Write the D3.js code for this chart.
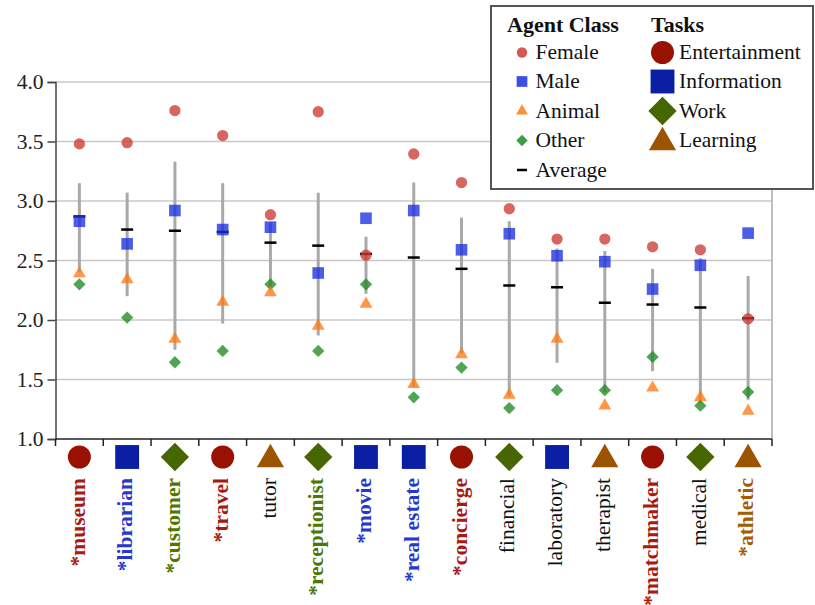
<!DOCTYPE html>
<html>
<head>
<meta charset="utf-8">
<script src="https://cdn.jsdelivr.net/npm/d3@7"></script>
<style>
  html, body { margin: 0; padding: 0; background: #fff; }
  svg { display: block; font-family: "Liberation Serif", "Times New Roman", serif; }
</style>
</head>
<body>
<svg id="chart" width="815" height="605"></svg>
<script>
// Agent roles, sorted by average rating
const categories = ["museum", "librarian", "customer", "travel", "tutor", "receptionist", "movie",
  "real estate", "concierge", "financial", "laboratory", "therapist", "matchmaker", "medical", "athletic"];
const starred = [true, true, true, true, false, true, true, true, true, false, false, false, true, false, true];
const tasks = ["Entertainment", "Information", "Work", "Entertainment", "Learning", "Work", "Information",
  "Information", "Entertainment", "Work", "Information", "Learning", "Entertainment", "Work", "Learning"];

// Ratings per agent class
const female  = [3.48, 3.49, 3.76, 3.55, 2.885, 3.75, 2.545, 3.395, 3.155, 2.935, 2.68, 2.68, 2.615, 2.59, 2.01];
const male    = [2.83, 2.64, 2.92, 2.76, 2.78, 2.395, 2.855, 2.92, 2.59, 2.725, 2.54, 2.49, 2.26, 2.46, 2.73];
const animal  = [2.39, 2.34, 1.84, 2.15, 2.23, 1.95, 2.135, 1.46, 1.71, 1.37, 1.84, 1.28, 1.43, 1.35, 1.235];
const other   = [2.30, 2.02, 1.645, 1.74, 2.30, 1.74, 2.30, 1.35, 1.60, 1.26, 1.41, 1.41, 1.69, 1.28, 1.395];
const average = [2.87, 2.76, 2.75, 2.74, 2.65, 2.625, 2.555, 2.525, 2.43, 2.29, 2.275, 2.145, 2.13, 2.105, 2.015];
const errLow  = [2.40, 2.20, 1.75, 1.97, 2.27, 1.87, 2.22, 1.44, 1.72, 1.36, 1.64, 1.39, 1.57, 1.30, 1.33];
const errHigh = [3.15, 3.07, 3.33, 3.15, 2.82, 3.07, 2.70, 3.155, 2.86, 2.83, 2.60, 2.58, 2.43, 2.52, 2.37];

const yTicks = [1.0, 1.5, 2.0, 2.5, 3.0, 3.5, 4.0];

const classNames = ["Female", "Male", "Animal", "Other"];
const taskNames = ["Entertainment", "Information", "Work", "Learning"];

const classColor = { Female: "#cc3b36", Male: "#1b2fe0", Animal: "#ff7a14", Other: "#1f8a24" };
const taskColor = { Entertainment: "#991100", Information: "#0a1fa3", Work: "#456600", Learning: "#9c5400" };
const taskText = { Entertainment: "#a8190f", Information: "#2638cc", Work: "#4f7700", Learning: "#a35c00" };

const svg = d3.select("#chart");
const margin = { left: 55.5, right: 43, top: 82, bottom: 166 };
const W = 815, H = 605;

const x = d3.scaleBand().domain(categories).range([margin.left, W - margin.right]);
const y = d3.scaleLinear().domain([1, 4]).range([H - margin.bottom, margin.top]);

// shape generators keyed by kind; diamond is a square turned 45 degrees
function shapePath(kind, size) {
  if (kind === "circle") return d3.symbol(d3.symbolCircle, size)();
  if (kind === "square") return d3.symbol(d3.symbolSquare, size)();
  if (kind === "triangle") return d3.symbol(d3.symbolTriangle, size)();
  return d3.symbol(d3.symbolSquare, size)();
}
const classShape = { Female: "circle", Male: "square", Animal: "triangle", Other: "diamond" };
const taskShape = { Entertainment: "circle", Information: "square", Work: "diamond", Learning: "triangle" };
const smallSize = { circle: 100, square: 135, triangle: 72, diamond: 76 };
const bigSize = { circle: 415, square: 570, triangle: 320, diamond: 400 };

function drawShape(g, kind, size, cx, cy, fill, opacity) {
  return g.append("path")
    .attr("d", shapePath(kind, size))
    .attr("transform", `translate(${cx},${cy})` + (kind === "diamond" ? " rotate(45)" : ""))
    .attr("fill", fill)
    .attr("fill-opacity", opacity);
}

// gridlines
svg.append("g")
  .selectAll("line")
  .data(yTicks.slice(1))
  .join("line")
  .attr("x1", margin.left).attr("x2", W - margin.right)
  .attr("y1", d => y(d)).attr("y2", d => y(d))
  .attr("stroke", "#c8c8c8").attr("stroke-width", 1.5);

// right frame edge
svg.append("line")
  .attr("x1", W - margin.right).attr("x2", W - margin.right)
  .attr("y1", y(4)).attr("y2", y(1))
  .attr("stroke", "#aaa").attr("stroke-width", 1.5);

// y axis
const yAxis = svg.append("g")
  .attr("transform", `translate(${margin.left},0)`)
  .call(d3.axisLeft(y).tickValues(yTicks).tickFormat(d3.format(".1f")).tickSize(8).tickPadding(4));
yAxis.select(".domain").attr("stroke", "#444").attr("stroke-width", 1.5);
yAxis.selectAll(".tick line").attr("stroke", "#444").attr("stroke-width", 1.5);
yAxis.selectAll(".tick text").attr("font-size", "21.5px").attr("fill", "#222")
  .attr("font-family", "Liberation Serif, serif");

// x axis with ticks at category boundaries
const xBase = y(1);
svg.append("line")
  .attr("x1", margin.left).attr("x2", W - margin.right)
  .attr("y1", xBase).attr("y2", xBase)
  .attr("stroke", "#222").attr("stroke-width", 1.5);
const bounds = categories.map(c => x(c)).concat([x(categories[categories.length - 1]) + x.bandwidth()]);
svg.append("g").selectAll("line").data(bounds).join("line")
  .attr("x1", d => d).attr("x2", d => d)
  .attr("y1", xBase).attr("y2", xBase + 7)
  .attr("stroke", "#222").attr("stroke-width", 1.5);

const cx = i => x(categories[i]) + x.bandwidth() / 2;

// error bars
svg.append("g").selectAll("line").data(categories).join("line")
  .attr("x1", (d, i) => cx(i)).attr("x2", (d, i) => cx(i))
  .attr("y1", (d, i) => y(errHigh[i])).attr("y2", (d, i) => y(errLow[i]))
  .attr("stroke", "#a9a9a9").attr("stroke-width", 3);

// averages
svg.append("g").selectAll("line").data(categories).join("line")
  .attr("x1", (d, i) => cx(i) - 6).attr("x2", (d, i) => cx(i) + 6)
  .attr("y1", (d, i) => y(average[i])).attr("y2", (d, i) => y(average[i]))
  .attr("stroke", "#000").attr("stroke-width", 2.5);

// class markers
const series = { Female: female, Male: male, Animal: animal, Other: other };
const marks = svg.append("g");
["Other", "Animal", "Male", "Female"].forEach(name => {
  series[name].forEach((v, i) => {
    const k = classShape[name];
    drawShape(marks, k, smallSize[k], cx(i), y(v), classColor[name], 0.78);
  });
});

// task icons under the axis
const icons = svg.append("g");
categories.forEach((c, i) => {
  const k = taskShape[tasks[i]];
  drawShape(icons, k, bigSize[k], cx(i), k === "triangle" ? 459.5 : 457, taskColor[tasks[i]], 1);
});

// rotated category labels
svg.append("g").selectAll("text").data(categories).join("text")
  .attr("transform", (d, i) => `translate(${cx(i)},478) rotate(-90)`)
  .attr("text-anchor", "end")
  .attr("dy", "0.24em")
  .attr("font-size", "21.5px")
  .attr("font-weight", (d, i) => starred[i] ? "bold" : "normal")
  .attr("fill", (d, i) => starred[i] ? taskText[tasks[i]] : "#111")
  .text((d, i) => (starred[i] ? "*" : "") + d);

// legend
const lg = svg.append("g");
lg.append("rect")
  .attr("x", 491).attr("y", 6).attr("width", 322).attr("height", 183)
  .attr("fill", "#fff").attr("stroke", "#555").attr("stroke-width", 2);
lg.append("text").attr("x", 507).attr("y", 32).attr("font-size", "22px").attr("font-weight", "bold")
  .attr("fill", "#111").text("Agent Class");
lg.append("text").attr("x", 651).attr("y", 32).attr("font-size", "22px").attr("font-weight", "bold")
  .attr("fill", "#111").text("Tasks");

const rowY = [52.5, 81.5, 111, 140.5, 170];
classNames.forEach((name, r) => {
  const k = classShape[name];
  drawShape(lg, k, smallSize[k] * 0.85, 522, rowY[r], classColor[name], 0.85);
  lg.append("text").attr("x", 535.5).attr("y", rowY[r] + 6.5).attr("font-size", "21.5px")
    .attr("fill", "#111").text(name);
});
lg.append("line").attr("x1", 517).attr("x2", 527).attr("y1", rowY[4]).attr("y2", rowY[4])
  .attr("stroke", "#000").attr("stroke-width", 2.5);
lg.append("text").attr("x", 535.5).attr("y", rowY[4] + 6.5).attr("font-size", "21.5px")
  .attr("fill", "#111").text("Average");

taskNames.forEach((name, r) => {
  const k = taskShape[name];
  drawShape(lg, k, bigSize[k], 662.5, rowY[r] + (k === "triangle" ? 2 : 0), taskColor[name], 1);
  lg.append("text").attr("x", 679).attr("y", rowY[r] + 6.5).attr("font-size", "21.5px")
    .attr("fill", "#111").text(name);
});
</script>
</body>
</html>
